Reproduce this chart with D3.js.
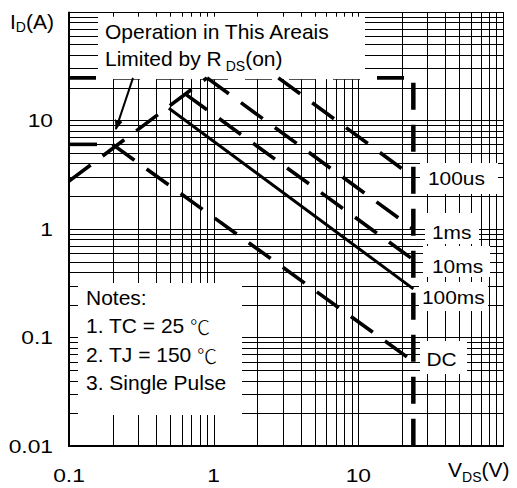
<!DOCTYPE html>
<html>
<head>
<meta charset="utf-8">
<script src="https://cdn.jsdelivr.net/npm/d3@7"></script>
<style>
  html, body { margin: 0; padding: 0; background: #fff; }
  svg { display: block; font-family: "Liberation Sans", Arial, sans-serif; }
</style>
</head>
<body>
<svg id="chart" width="517" height="488"></svg>
<script>
// ---- axis ticks ----
const vdsTicks = [0.1, 1, 10];
const vdsTickLabels = ["0.1", "1", "10"];
const idTicks = [0.01, 0.1, 1, 10];
const idTickLabels = ["0.01", "0.1", "1", "10"];

// ---- limits ----
const rdsOnLimit = [[0.1, 2.75], [0.9, 24.6]];   // [VDS, ID]
const idContinuous = [[0.1, 6], [0.2, 6]];
const idPulseMax = 24.6;   // A
const vdsMax = 24;         // V

// ---- safe operating area boundaries, [VDS, ID] end points ----
const seriesNames = ["100us", "1ms", "10ms", "100ms", "DC"];
const soa100us = [[2.8, 24.6], [24, 3.0]];
const soa1ms   = [[0.9, 24.6], [24, 1.0]];
const soa10ms  = [[0.635, 17.5], [24, 0.52]];
const soa100ms = [[0.49, 12.9], [24, 0.28]];
const soaDC    = [[0.2, 6], [24, 0.06]];

// ---- arrow pointing at the RDS(on) limit, [VDS, ID] ----
const arrowTail = [0.277, 24.6];
const arrowTip = [0.211, 8.3];

const noteLines = ["Notes:", "1. TC = 25 ", "2. TJ = 150 ", "3. Single Pulse"];
const noteUnits = ["", "\u2103", "\u2103", ""];

// ---- layout ----
const plot = { left: 69, right: 503, top: 11.7, bottom: 446 };
const svg = d3.select("#chart");

const x = d3.scaleLog().domain([0.1, 100]).range([plot.left, plot.right]);
const y = d3.scaleLog().domain([0.01, 100]).range([plot.bottom, plot.top]);

const line = d3.line().x(d => x(d[0])).y(d => y(d[1]));

// grid
const grid = svg.append("g").attr("shape-rendering", "crispEdges")
  .attr("stroke", "#000").attr("stroke-width", 1);
grid.selectAll("line.v").data(x.ticks()).join("line")
  .attr("class", "v")
  .attr("x1", d => Math.round(x(d)) + 0.5).attr("x2", d => Math.round(x(d)) + 0.5)
  .attr("y1", plot.top).attr("y2", plot.bottom);
grid.selectAll("line.h").data(y.ticks()).join("line")
  .attr("class", "h")
  .attr("y1", d => Math.round(y(d)) + 0.5).attr("y2", d => Math.round(y(d)) + 0.5)
  .attr("x1", plot.left).attr("x2", plot.right);

// frame
svg.append("rect")
  .attr("x", plot.left + 0.5).attr("y", plot.top + 0.5)
  .attr("width", plot.right - plot.left).attr("height", plot.bottom - plot.top)
  .attr("fill", "none").attr("stroke", "#000").attr("stroke-width", 1)
  .attr("shape-rendering", "crispEdges");
svg.append("line")
  .attr("x1", plot.left).attr("x2", plot.left)
  .attr("y1", plot.top).attr("y2", plot.bottom + 1)
  .attr("stroke", "#000").attr("stroke-width", 2);
svg.append("line")
  .attr("x1", plot.left).attr("x2", plot.right)
  .attr("y1", plot.bottom).attr("y2", plot.bottom)
  .attr("stroke", "#000").attr("stroke-width", 2);

// pulse current limit (horizontal) and voltage limit (vertical)
svg.append("path")
  .attr("d", line([[0.1, idPulseMax], [vdsMax, idPulseMax]]))
  .attr("fill", "none").attr("stroke", "#000").attr("stroke-width", 3.6)
  .attr("stroke-dasharray", "27,17");
svg.append("path")
  .attr("d", line([[vdsMax, idPulseMax], [vdsMax, 0.01]]))
  .attr("fill", "none").attr("stroke", "#000").attr("stroke-width", 4.5)
  .attr("stroke-dasharray", "27,15").attr("stroke-dashoffset", 37);

// white panels behind the texts
const panels = [
  { x: 98, y: 16.7, w: 267, h: 62.4 },   // RDS(on) annotation
  { x: 78, y: 283, w: 164, h: 132 },     // notes
  { x: 420, y: 163, w: 78, h: 31 },      // 100us
  { x: 425, y: 213, w: 54, h: 31 },      // 1ms
  { x: 423, y: 246, w: 67, h: 31 },      // 10ms
  { x: 419, y: 282, w: 69, h: 29 },      // 100ms
  { x: 420, y: 341, w: 47, h: 33 }       // DC
];
svg.append("g").selectAll("rect").data(panels).join("rect")
  .attr("x", d => d.x).attr("y", d => d.y)
  .attr("width", d => d.w).attr("height", d => d.h)
  .attr("fill", "#fff");

// limit lines
const dashed = { width: 3.6, dash: "27,15" };
function drawLimit(pts, dash, width) {
  svg.append("path")
    .attr("d", line(pts))
    .attr("fill", "none").attr("stroke", "#000")
    .attr("stroke-width", width)
    .attr("stroke-dasharray", dash);
}
drawLimit(rdsOnLimit, dashed.dash, dashed.width);
drawLimit(idContinuous, "28,20", dashed.width);
drawLimit(soa100us, dashed.dash, dashed.width);
drawLimit(soa1ms, dashed.dash, dashed.width);
drawLimit(soa10ms, dashed.dash, dashed.width);
drawLimit(soa100ms, null, 3);
drawLimit(soaDC, dashed.dash, dashed.width);

// arrow
svg.append("defs").append("marker")
  .attr("id", "head").attr("viewBox", "0 0 10 10")
  .attr("refX", 9).attr("refY", 5)
  .attr("markerWidth", 5).attr("markerHeight", 5)
  .attr("markerUnits", "strokeWidth")
  .attr("orient", "auto")
  .append("path").attr("d", "M0,1 L10,5 L0,9 Z").attr("fill", "#000");
svg.append("path")
  .attr("d", line([arrowTail, arrowTip]))
  .attr("stroke", "#000").attr("stroke-width", 2).attr("fill", "none")
  .attr("marker-end", "url(#head)");

// text helper: horizontally widened glyphs
function widened(px, py, str, size, sx, anchor) {
  return svg.append("text")
    .attr("transform", `translate(${px},${py}) scale(${sx},1)`)
    .attr("font-size", size)
    .attr("text-anchor", anchor || "start")
    .attr("fill", "#000")
    .text(str);
}

// tick labels
vdsTicks.forEach((v, i) => widened(x(v), 482, vdsTickLabels[i], 19, 1.2, "middle"));
idTicks.forEach((v, i) => widened(53, y(v) + 7, idTickLabels[i], 19, 1.2, "end"));

// series labels
const labelPos = [[428, 185], [432, 239], [432, 272.7], [422, 304.3], [426.5, 365.7]];
seriesNames.forEach((s, i) => widened(labelPos[i][0], labelPos[i][1], s, 19, 1.1, "start"));

// axis titles
const yTitle = svg.append("text").attr("x", 10).attr("y", 29).attr("font-size", 21);
yTitle.append("tspan").text("I");
yTitle.append("tspan").attr("font-size", 14).attr("dy", 3).text("D");
yTitle.append("tspan").attr("dy", -3).text("(A)");

const xTitle = svg.append("text").attr("x", 448).attr("y", 477).attr("font-size", 21);
xTitle.append("tspan").text("V");
xTitle.append("tspan").attr("font-size", 14).attr("dy", 5).text("DS");
xTitle.append("tspan").attr("dy", -5).text("(V)");

// RDS(on) annotation
svg.append("text").attr("x", 105).attr("y", 39).attr("font-size", 21)
  .text("Operation in This Areais");
const lim = svg.append("text").attr("x", 105).attr("y", 66).attr("font-size", 21);
lim.append("tspan").text("Limited by R");
lim.append("tspan").attr("dx", 4).attr("dy", 5).attr("font-size", 14).text("DS");
lim.append("tspan").attr("dy", -5).text("(on)");

// notes
noteLines.forEach((t, i) => {
  const tx = svg.append("text").attr("x", 86).attr("y", 305 + i * 28.4).attr("font-size", 21);
  tx.append("tspan").text(t);
  if (noteUnits[i]) {
    tx.append("tspan")
      .attr("font-family", "'Noto Sans CJK SC', sans-serif")
      .attr("font-weight", 300)
      .attr("font-size", 20)
      .attr("dy", 2)
      .text(noteUnits[i]);
  }
});
</script>
</body>
</html>
